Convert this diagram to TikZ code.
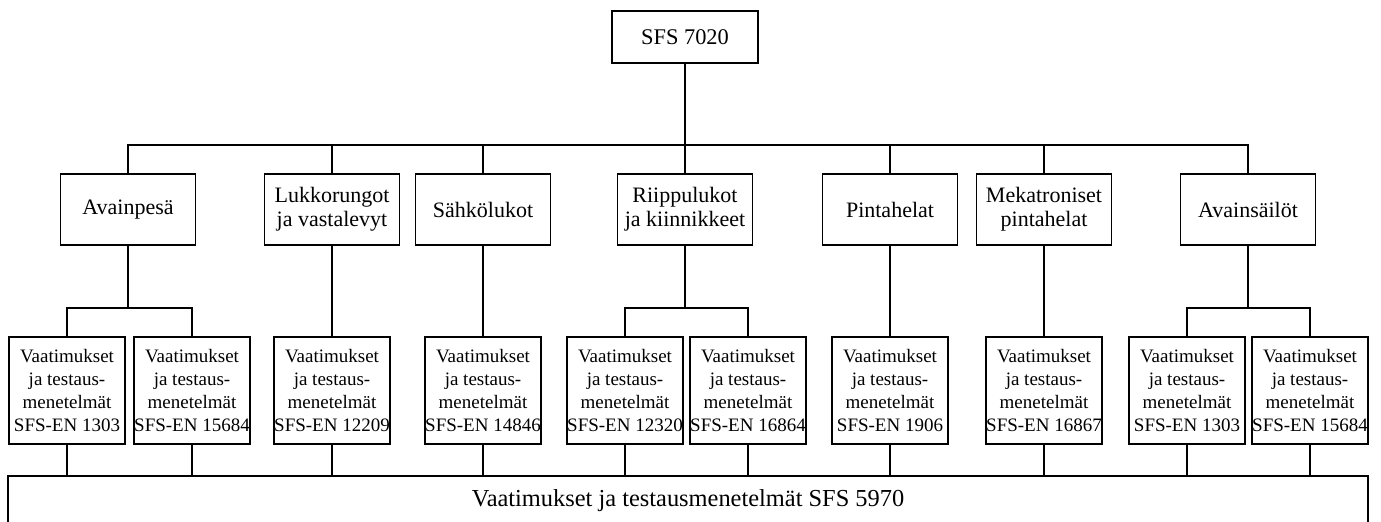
\documentclass[tikz,border=0pt]{standalone}
\usepackage{fontspec}
\setmainfont{Liberation Serif}
\usepackage{tikz}
\usetikzlibrary{positioning}

\begin{document}
\begin{tikzpicture}[x=0.5pt,y=-0.5pt,line width=0.8pt,
	topbox/.style={draw,minimum width=73pt,minimum height=26pt,font=\fontsize{11.2}{13}\selectfont},
	catbox/.style={draw,align=center,minimum width=67.5pt,minimum height=35.5pt,inner sep=1pt,font=\fontsize{11}{12}\selectfont},
	reqbox/.style={draw,align=center,minimum width=58pt,minimum height=53.5pt,inner sep=0pt,font=\fontsize{9.5}{11.5}\selectfont},
	basebox/.style={draw,minimum width=680pt,minimum height=25pt,font=\fontsize{12.2}{14}\selectfont},
	hv/.style={to path={-| (\tikztotarget)}}]

	\useasboundingbox (0,0) rectangle (1381,522);

	\node[topbox] (sfs) at (685,37) {SFS 7020};

	\node[catbox] (avainpesa) at (128,209.5) {Avainpesä};
	\node[catbox] (lukko)     at (332,209.5) {Lukkorungot\\ja vastalevyt};
	\node[catbox] (sahko)     at (483,209.5) {Sähkölukot};
	\node[catbox] (riippu)    at (685,209.5) {Riippulukot\\ja kiinnikkeet};
	\node[catbox] (pinta)     at (890,209.5) {Pintahelat};
	\node[catbox] (meka)      at (1044,209.5) {Mekatroniset\\pintahelat};
	\node[catbox] (sailo)     at (1248,209.5) {Avainsäilöt};

	\node[reqbox] (avreq1) at (67,390.5) {Vaatimukset\\ja testaus-\\menetelmät\\SFS-EN 1303};
	\node[reqbox] (avreq2) at (192,390.5) {Vaatimukset\\ja testaus-\\menetelmät\\SFS-EN 15684};
	\node[reqbox] (lkreq)  at (332,390.5) {Vaatimukset\\ja testaus-\\menetelmät\\SFS-EN 12209};
	\node[reqbox] (shreq)  at (483,390.5) {Vaatimukset\\ja testaus-\\menetelmät\\SFS-EN 14846};
	\node[reqbox] (rireq1) at (625,390.5) {Vaatimukset\\ja testaus-\\menetelmät\\SFS-EN 12320};
	\node[reqbox] (rireq2) at (748,390.5) {Vaatimukset\\ja testaus-\\menetelmät\\SFS-EN 16864};
	\node[reqbox] (pireq)  at (890,390.5) {Vaatimukset\\ja testaus-\\menetelmät\\SFS-EN 1906};
	\node[reqbox] (mereq)  at (1044,390.5) {Vaatimukset\\ja testaus-\\menetelmät\\SFS-EN 16867};
	\node[reqbox] (sareq1) at (1187,390.5) {Vaatimukset\\ja testaus-\\menetelmät\\SFS-EN 1303};
	\node[reqbox] (sareq2) at (1310,390.5) {Vaatimukset\\ja testaus-\\menetelmät\\SFS-EN 15684};

	\node[basebox] (sfs5970) at (688,501) {Vaatimukset ja testausmenetelmät SFS 5970};

	% branching points
	\coordinate (bus)     at (685,145);
	\coordinate (avsplit) at (128,308);
	\coordinate (risplit) at (685,308);
	\coordinate (sasplit) at (1248,308);

	\path (sfs.south) edge (bus)
		(bus) edge[hv] (avainpesa.north)
		      edge[hv] (lukko.north)
		      edge[hv] (sahko.north)
		      edge (riippu.north)
		      edge[hv] (pinta.north)
		      edge[hv] (meka.north)
		      edge[hv] (sailo.north)
		(avainpesa.south) edge (avsplit)
		(avsplit) edge[hv] (avreq1.north)
		          edge[hv] (avreq2.north)
		(riippu.south) edge (risplit)
		(risplit) edge[hv] (rireq1.north)
		          edge[hv] (rireq2.north)
		(sailo.south) edge (sasplit)
		(sasplit) edge[hv] (sareq1.north)
		          edge[hv] (sareq2.north)
		(lukko.south) edge (lkreq.north)
		(sahko.south) edge (shreq.north)
		(pinta.south) edge (pireq.north)
		(meka.south) edge (mereq.north);

	\path (avreq1.south) edge (avreq1.south |- sfs5970.north)
		(avreq2.south) edge (avreq2.south |- sfs5970.north)
		(lkreq.south)  edge (lkreq.south |- sfs5970.north)
		(shreq.south)  edge (shreq.south |- sfs5970.north)
		(rireq1.south) edge (rireq1.south |- sfs5970.north)
		(rireq2.south) edge (rireq2.south |- sfs5970.north)
		(pireq.south)  edge (pireq.south |- sfs5970.north)
		(mereq.south)  edge (mereq.south |- sfs5970.north)
		(sareq1.south) edge (sareq1.south |- sfs5970.north)
		(sareq2.south) edge (sareq2.south |- sfs5970.north);

\end{tikzpicture}
\end{document}
